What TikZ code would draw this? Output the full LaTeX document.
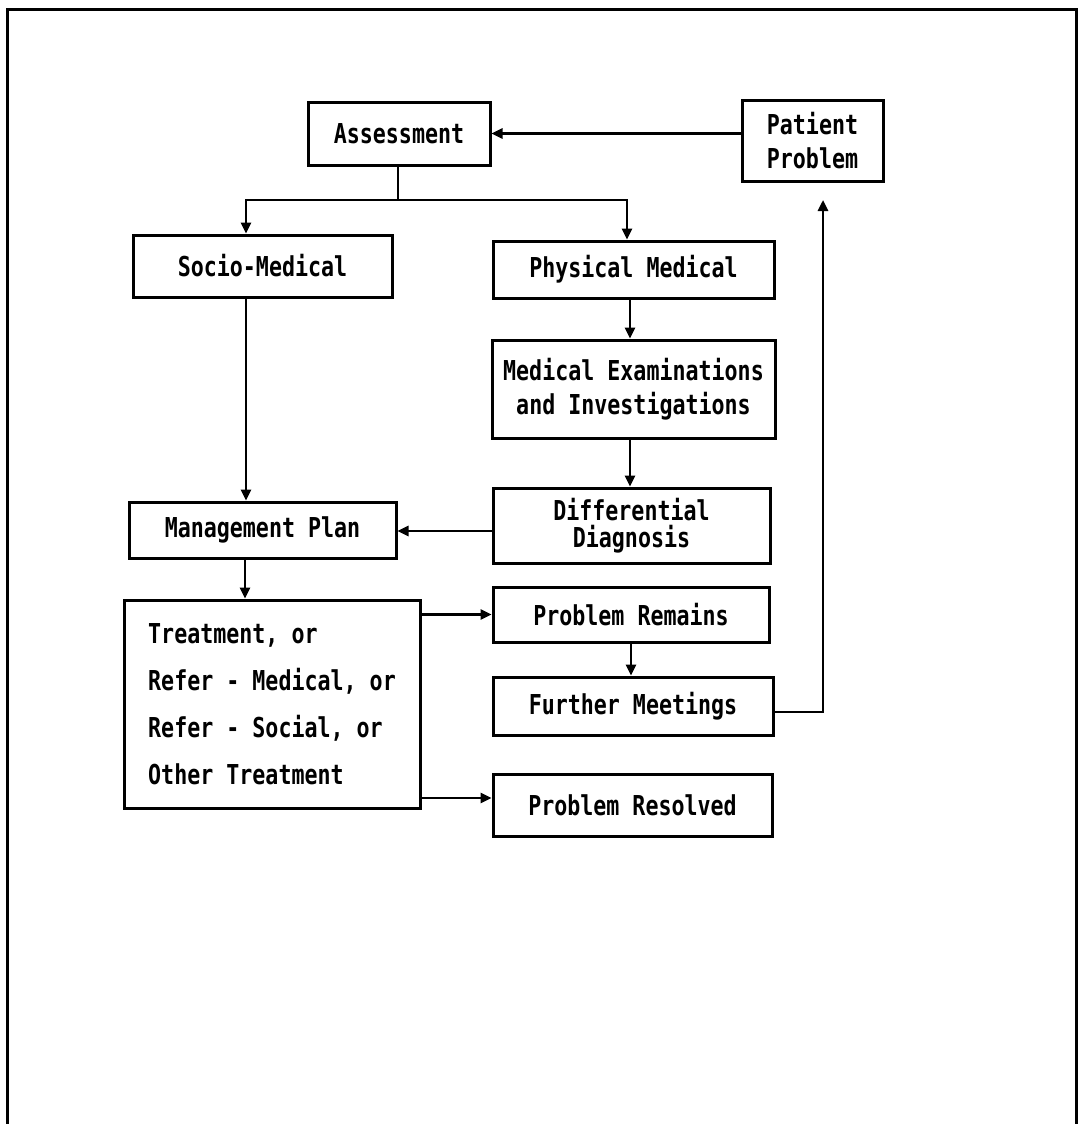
\documentclass[tikz,border=0pt]{standalone}
\usepackage{fontspec}
\usetikzlibrary{arrows.meta}
% condensed bold monospace, in the spirit of an old screen font
\newfontfamily\dosfont[FakeStretch=0.79]{DejaVu Sans Mono}
\begin{document}
\begin{tikzpicture}[x=1pt,y=-1pt,
  box/.style={draw,line width=3pt,inner sep=0pt,align=center,
    font=\dosfont\bfseries\fontsize{27.4}{34}\selectfont},
  arr/.style={line width=2.5pt,-{Triangle[length=11pt,width=10pt]}},
  ln/.style={line width=2.5pt}]
\useasboundingbox (0,0) rectangle (1079,1124);
% outer frame (open at the bottom)
\draw[line width=3pt] (7,1124) -- (7,10) -- (1076,10) -- (1076,1124);

% boxes
\node[box,minimum width=182pt,minimum height=63pt] (assess) at (399,133.5) {Assessment};
\node[box,minimum width=141pt,minimum height=81pt] (patient) at (812.5,140.5) {Patient\\Problem};
\node[box,minimum width=259pt,minimum height=62pt] (socio) at (262.5,266) {Socio-Medical};
\node[box,minimum width=281pt,minimum height=57pt] (phys) at (633.5,269.5) {Physical Medical};
\node[box,minimum width=283pt,minimum height=98pt] (exam) at (633.5,389) {Medical Examinations\\and Investigations};
\node[box,minimum width=277pt,minimum height=75pt,
  font=\dosfont\bfseries\fontsize{27.4}{27}\selectfont] (diff) at (631.5,525.5) {Differential\\Diagnosis};
\node[box,minimum width=267pt,minimum height=56pt] (mgmt) at (262.5,530) {Management Plan};
\node[box,minimum width=296pt,minimum height=208pt,align=left,
  font=\dosfont\bfseries\fontsize{27.4}{47}\selectfont] (treat) at (272,704)
  {Treatment, or\\Refer - Medical, or\\Refer - Social, or\\Other Treatment};
\node[box,minimum width=276pt,minimum height=55pt] (remains) at (631,614.5) {Problem Remains};
\node[box,minimum width=280pt,minimum height=58pt] (meetings) at (633,706) {Further Meetings};
\node[box,minimum width=279pt,minimum height=62pt] (resolved) at (632.5,805) {Problem Resolved};

% junctions and free ends
\coordinate (jn) at (398,200);
\coordinate (back) at (823,200);
\coordinate (resIn) at ([yshift=7pt]resolved.west);

% connectors
\draw[arr] (assess.east -| patient.west) -- (assess.east);
\draw[ln] (assess.south -| jn) -- (jn);
\draw[arr] (jn) -| ([xshift=-16.5pt]socio.north);
\draw[arr] (jn) -| ([xshift=-6.5pt]phys.north);
\draw[arr] ([xshift=-16.5pt]socio.south) -- ([xshift=-16.5pt]socio.south |- mgmt.north);
\draw[arr] ([xshift=-3.5pt]phys.south) -- ([xshift=-3.5pt]phys.south |- exam.north);
\draw[arr] ([xshift=-3.5pt]exam.south) -- ([xshift=-3.5pt]exam.south |- diff.north);
\draw[arr] ([yshift=-5.5pt]diff.west) -- ([yshift=-5.5pt]diff.west -| mgmt.east);
\draw[arr] ([xshift=-17.5pt]mgmt.south) -- ([xshift=-17.5pt]mgmt.south |- treat.north);
\draw[arr] (treat.east |- remains.west) -- (remains.west);
\draw[arr] (treat.east |- resIn) -- (resIn);
\draw[arr] (remains.south) -- (remains.south |- meetings.north);
\draw[arr] ([yshift=-6pt]meetings.east) -| (back);
\end{tikzpicture}
\end{document}
